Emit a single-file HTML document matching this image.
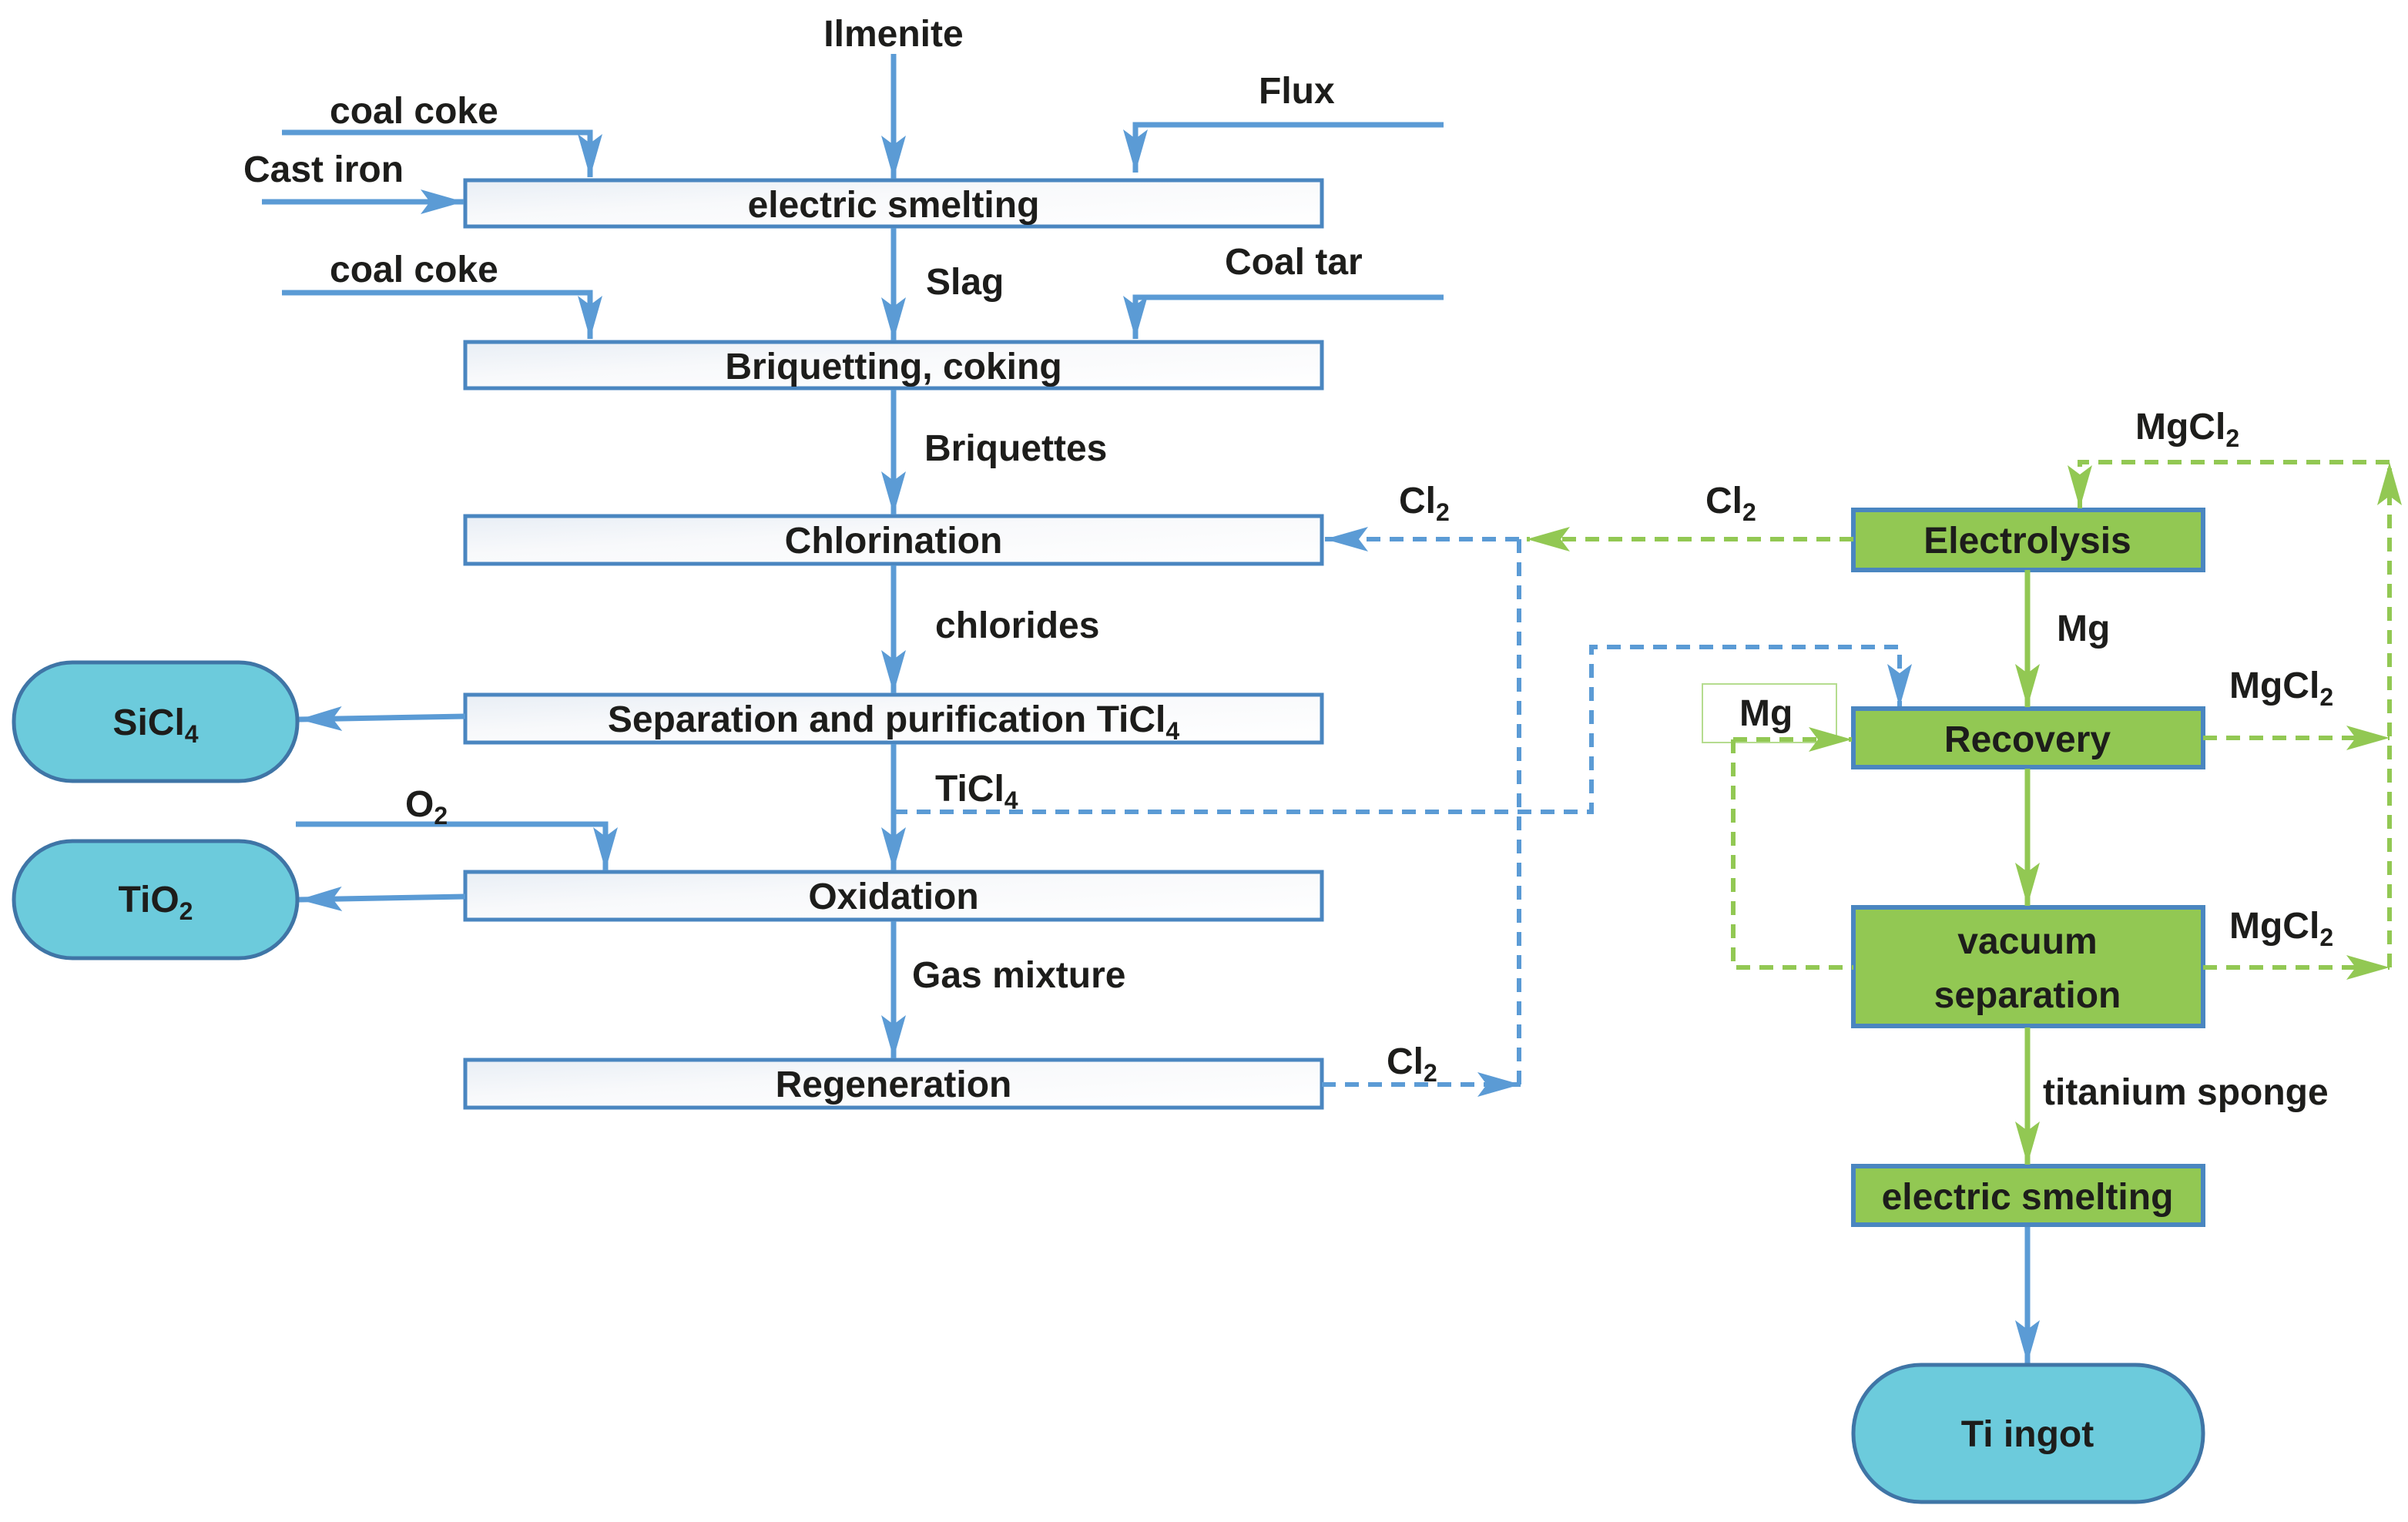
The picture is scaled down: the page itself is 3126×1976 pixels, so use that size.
<!DOCTYPE html>
<html><head><meta charset="utf-8"><style>
html,body{margin:0;padding:0;background:#fff;}
svg{display:block;}
text{font-family:"Liberation Sans",sans-serif;font-weight:bold;fill:#1d1d1b;font-size:24px;}
</style></head><body>
<svg width="3126" height="1976" viewBox="0 0 1563 988" xmlns="http://www.w3.org/2000/svg">
<defs>
<linearGradient id="g" x1="0" y1="0" x2="1" y2="1">
<stop offset="0" stop-color="#e8eef5"/><stop offset="0.4" stop-color="#f8f9fb"/><stop offset="1" stop-color="#ffffff"/>
</linearGradient>
<marker id="ab" viewBox="0 0 28 16" refX="28" refY="8" markerWidth="28" markerHeight="16" orient="auto" markerUnits="userSpaceOnUse"><path d="M0,0 L28,8 L0,16 L6,8 Z" fill="#5b9bd5"/></marker>
<marker id="ag" viewBox="0 0 28 16" refX="28" refY="8" markerWidth="28" markerHeight="16" orient="auto" markerUnits="userSpaceOnUse"><path d="M0,0 L28,8 L0,16 L6,8 Z" fill="#92c853"/></marker>
</defs>

<g fill="url(#g)" stroke="#4a86c0" stroke-width="2.5">
<rect x="302" y="117" width="556" height="30"/>
<rect x="302" y="222" width="556" height="30"/>
<rect x="302" y="335" width="556" height="31"/>
<rect x="302" y="451" width="556" height="31"/>
<rect x="302" y="566" width="556" height="31"/>
<rect x="302" y="688" width="556" height="31"/>
</g>
<g text-anchor="middle">
<text x="580" y="141">electric smelting</text>
<text x="580" y="246">Briquetting, coking</text>
<text x="580" y="359">Chlorination</text>
<text x="580" y="475">Separation and purification TiCl<tspan font-size="16" dy="5">4</tspan></text>
<text x="580" y="590">Oxidation</text>
<text x="580" y="712">Regeneration</text>
</g>

<g stroke="#5b9bd5" stroke-width="3.5" fill="none" marker-end="url(#ab)">
<line x1="580" y1="35" x2="580" y2="116"/>
<line x1="580" y1="148" x2="580" y2="221"/>
<line x1="580" y1="253" x2="580" y2="334"/>
<line x1="580" y1="367" x2="580" y2="450"/>
<line x1="580" y1="483" x2="580" y2="565"/>
<line x1="580" y1="598" x2="580" y2="687"/>
<polyline points="183,86 383,86 383,115"/>
<line x1="170" y1="131" x2="301" y2="131"/>
<polyline points="937,81 737,81 737,112"/>
<polyline points="183,190 383,190 383,220"/>
<polyline points="937,193 737,193 737,220"/>
<polyline points="192,535 393,535 393,565"/>
<line x1="302" y1="465" x2="194" y2="467"/>
<line x1="302" y1="582" x2="194" y2="584"/>
<line x1="1316" y1="796" x2="1316" y2="885"/>
</g>

<text x="580" y="30" text-anchor="middle">Ilmenite</text>
<text x="214" y="80">coal coke</text>
<text x="158" y="118">Cast iron</text>
<text x="817" y="67">Flux</text>
<text x="214" y="183">coal coke</text>
<text x="795" y="178">Coal tar</text>
<text x="601" y="191">Slag</text>
<text x="600" y="299">Briquettes</text>
<text x="607" y="414">chlorides</text>
<text x="607" y="520">TiCl<tspan font-size="16" dy="5">4</tspan></text>
<text x="592" y="641">Gas mixture</text>
<text x="263" y="530">O<tspan font-size="16" dy="5">2</tspan></text>

<g fill="#6ccbdc" stroke="#3f75a6" stroke-width="2.5">
<rect x="9" y="430" width="184" height="77" rx="38"/>
<rect x="9" y="546" width="184" height="76" rx="38"/>
<rect x="1203" y="886" width="227" height="89" rx="44"/>
</g>
<text x="101" y="477" text-anchor="middle">SiCl<tspan font-size="16" dy="5">4</tspan></text>
<text x="101" y="592" text-anchor="middle">TiO<tspan font-size="16" dy="5">2</tspan></text>
<text x="1316" y="939" text-anchor="middle">Ti ingot</text>

<g stroke="#5b9bd5" stroke-width="3" fill="none" stroke-dasharray="9,6">
<line x1="986" y1="350" x2="986" y2="704"/>
<line x1="986" y1="350" x2="860" y2="350" marker-end="url(#ab)"/>
<line x1="858" y1="704" x2="987" y2="704" marker-end="url(#ab)"/>
<polyline points="580,527 1033,527 1033,420 1233,420 1233,459" marker-end="url(#ab)"/>
</g>
<text x="908" y="333">Cl<tspan font-size="16" dy="5">2</tspan></text>
<text x="900" y="697">Cl<tspan font-size="16" dy="5">2</tspan></text>
<text x="1107" y="333">Cl<tspan font-size="16" dy="5">2</tspan></text>

<g fill="#92c853" stroke="#4a86c0" stroke-width="3">
<rect x="1203" y="331" width="227" height="39"/>
<rect x="1203" y="460" width="227" height="38"/>
<rect x="1203" y="589" width="227" height="77"/>
<rect x="1203" y="757" width="227" height="38"/>
</g>
<g text-anchor="middle">
<text x="1316" y="359">Electrolysis</text>
<text x="1316" y="488">Recovery</text>
<text x="1316" y="619">vacuum</text>
<text x="1316" y="654">separation</text>
<text x="1316" y="785">electric smelting</text>
</g>
<rect x="1105" y="444" width="87" height="38" fill="none" stroke="#b5dc8f" stroke-width="1"/>
<text x="1129" y="471">Mg</text>

<g stroke="#92c853" stroke-width="3.5" fill="none" marker-end="url(#ag)">
<line x1="1316" y1="370" x2="1316" y2="459"/>
<line x1="1316" y1="499" x2="1316" y2="588"/>
<line x1="1316" y1="667" x2="1316" y2="756"/>
</g>
<g stroke="#92c853" stroke-width="3" fill="none" stroke-dasharray="9,6">
<line x1="1203" y1="350" x2="991" y2="350" marker-end="url(#ag)"/>
<line x1="1551" y1="628" x2="1551" y2="300" marker-end="url(#ag)"/>
<polyline points="1551,300 1350,300 1350,330" marker-end="url(#ag)"/>
<line x1="1430" y1="479" x2="1551" y2="479" marker-end="url(#ag)"/>
<line x1="1430" y1="628" x2="1551" y2="628" marker-end="url(#ag)"/>
<line x1="1125" y1="480" x2="1202" y2="480" marker-end="url(#ag)"/>
<polyline points="1125,480 1125,628 1203,628"/>
</g>
<text x="1386" y="285">MgCl<tspan font-size="16" dy="5">2</tspan></text>
<text x="1447" y="453">MgCl<tspan font-size="16" dy="5">2</tspan></text>
<text x="1447" y="609">MgCl<tspan font-size="16" dy="5">2</tspan></text>
<text x="1335" y="416">Mg</text>
<text x="1326" y="717">titanium sponge</text>
</svg>
</body></html>
